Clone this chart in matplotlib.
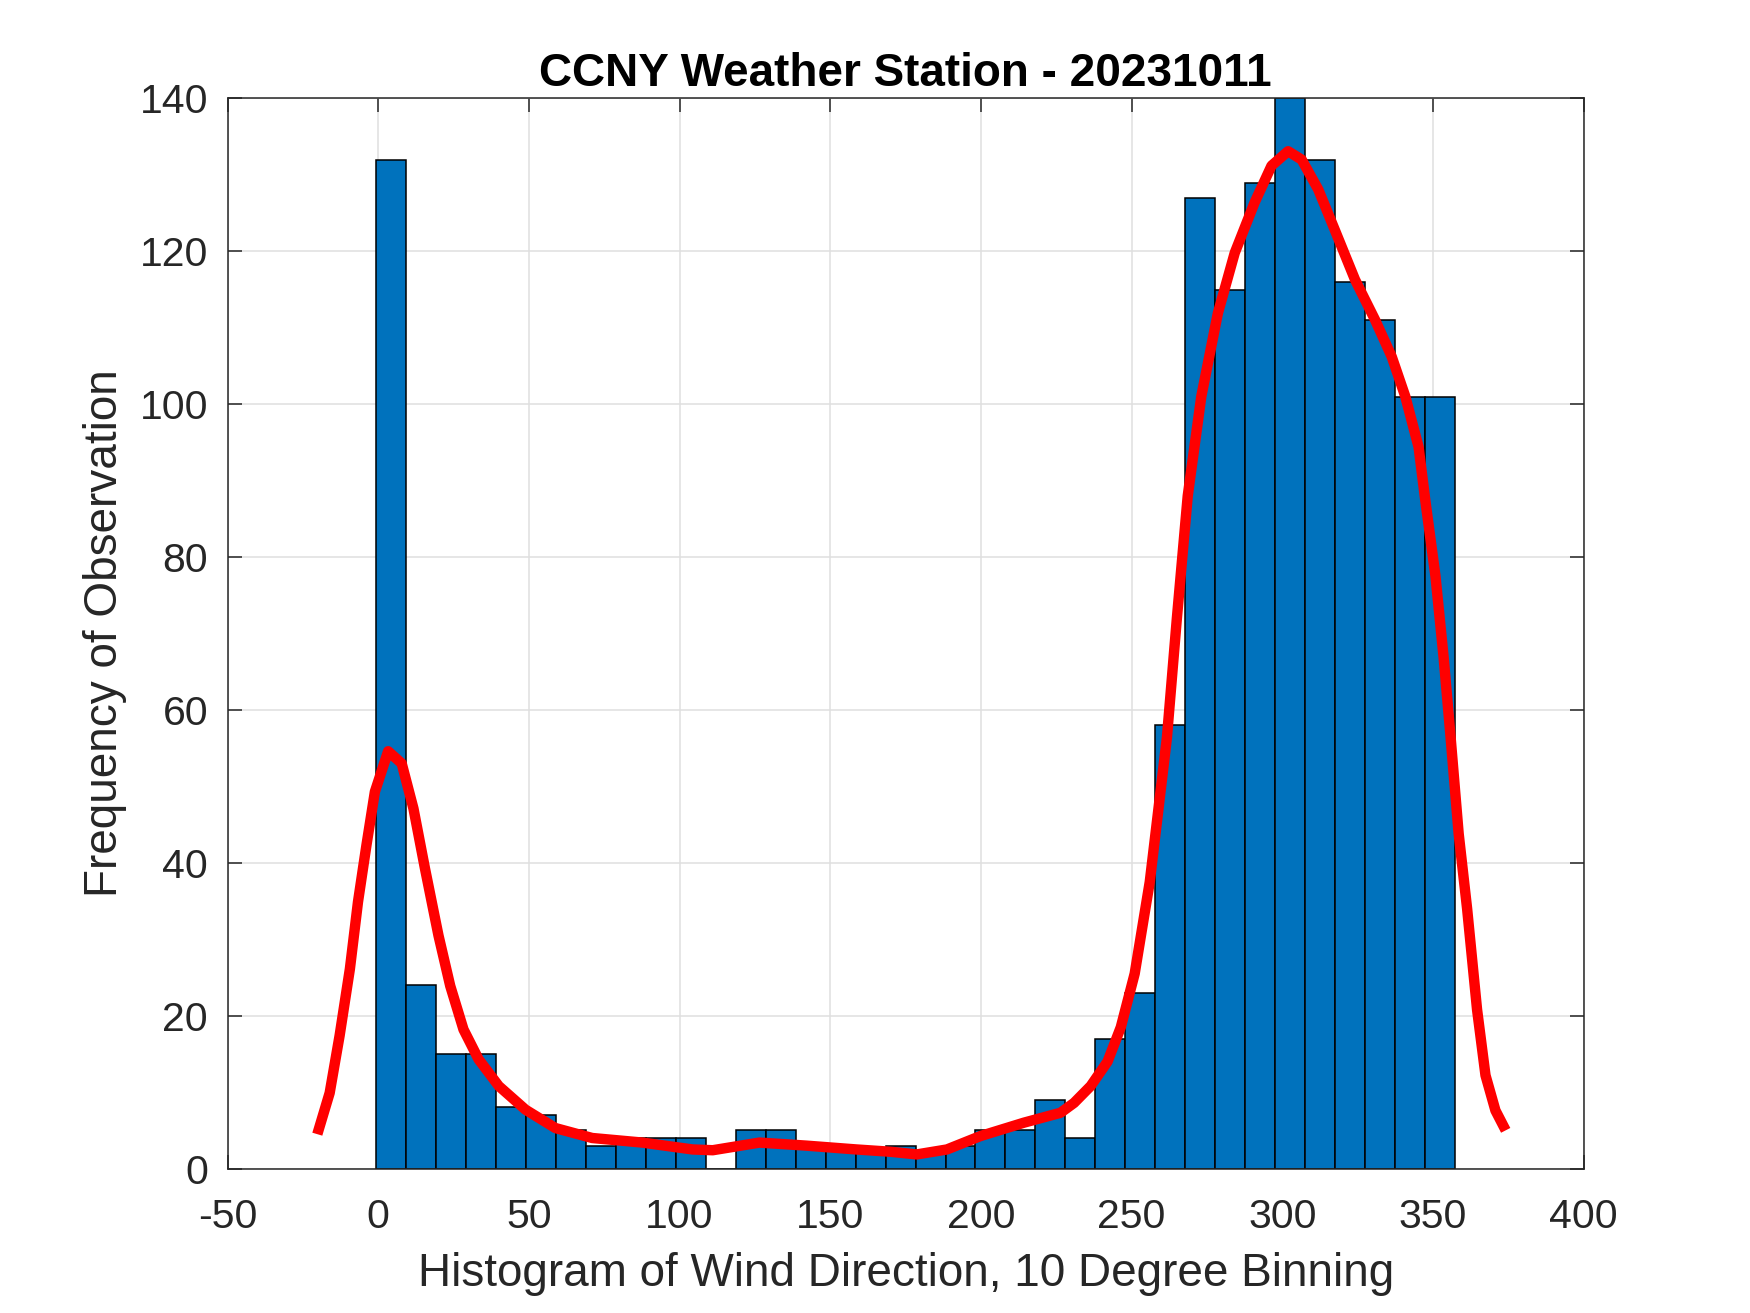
import numpy as np
import matplotlib

matplotlib.use("Agg")
import matplotlib.pyplot as plt

# histogram counts, 36 bins of ~10 degrees
bin_lo = -0.6
bin_hi = 357.2
counts = [132, 24, 15, 15, 8, 7, 5, 3, 4, 4, 4, 0, 5, 5, 3, 3, 2, 3,
          2, 3, 5, 5, 9, 4, 17, 23, 58, 127, 115, 129, 140, 132, 116, 111, 101, 101]

# smoothed density curve (red)
curve_x = [-20.2, -16.1, -12.8, -9.4, -6.7, -3.9, -1.1, 3.3, 7.8, 11.7, 15.5, 20.0,
           23.9, 28.3, 33.3, 40.0, 48.9, 58.8, 71.0, 87.7, 104.3, 111.0, 126.5, 142.1,
           158.7, 170.0, 178.7, 188.7, 199.8, 214.2, 226.4, 230.9, 236.4, 242.0, 246.4,
           251.0, 256.0, 261.7, 265.0, 268.6, 273.1, 278.6, 284.2, 290.8, 296.4, 301.9,
           306.4, 311.9, 317.4, 324.1, 330.8, 336.3, 340.8, 345.2, 347.4, 350.8, 353.5,
           355.7, 358.5, 361.3, 364.6, 367.4, 370.7, 374.1]
curve_y = [4.5, 9.9, 17.4, 26.1, 34.9, 42.3, 49.3, 54.6, 53.0, 47.1, 39.3, 30.5,
           23.9, 18.2, 14.3, 10.8, 7.7, 5.3, 4.0, 3.4, 2.5, 2.4, 3.4, 3.0,
           2.5, 2.2, 1.85, 2.5, 4.25, 6.0, 7.3, 8.6, 10.8, 14.0, 18.5,
           25.5, 37.5, 56.4, 72.0, 88.0, 101.0, 111.9, 119.8, 126.4, 131.2, 133.1,
           132.0, 128.1, 122.8, 116.3, 111.0, 106.2, 101.0, 94.4, 87.5, 77.5, 66.9,
           57.0, 43.8, 34.0, 20.8, 12.2, 7.6, 5.0]

x_ticks = [-50, 0, 50, 100, 150, 200, 250, 300, 350, 400]
y_ticks = [0, 20, 40, 60, 80, 100, 120, 140]

AX_COLOR = "#262626"
plt.rcParams["font.family"] = ["Liberation Sans", "DejaVu Sans"]
plt.rcParams["axes.unicode_minus"] = False

fig = plt.figure(figsize=(17.5, 13.13), dpi=100)
ax = fig.add_axes([0.13, 0.11, 0.775, 0.815])

edges = np.linspace(bin_lo, bin_hi, len(counts) + 1)
ax.bar(edges[:-1], counts, width=np.diff(edges), align="edge",
       color="#0072BD", edgecolor="black", linewidth=1.1, zorder=2)
ax.plot(curve_x, curve_y, color="red", linewidth=7.5, zorder=3,
        solid_capstyle="butt", solid_joinstyle="round")

ax.set_xlim(-50, 400)
ax.set_ylim(0, 140)
ax.set_xticks(x_ticks)
ax.set_yticks(y_ticks)
ax.grid(True, color="#dfdfdf", linewidth=1.1, zorder=0)
ax.set_axisbelow(True)

ax.tick_params(direction="in", length=10, width=1.1, colors=AX_COLOR,
               labelsize=29.5, top=True, right=True)
ax.tick_params(axis="x", pad=21)
ax.tick_params(axis="y", pad=14)
for s in ax.spines.values():
    s.set_color(AX_COLOR)
    s.set_linewidth(1.1)

ax.set_xlabel("Histogram of Wind Direction, 10 Degree Binning",
              fontsize=33, color=AX_COLOR, labelpad=12)
ax.set_ylabel("Frequency of Observation", fontsize=33, color=AX_COLOR, labelpad=9)
ax.set_title("CCNY Weather Station - 20231011", fontsize=33,
             fontweight="bold", color="black", pad=9)

fig.savefig("out.png", dpi=100, facecolor="white")
